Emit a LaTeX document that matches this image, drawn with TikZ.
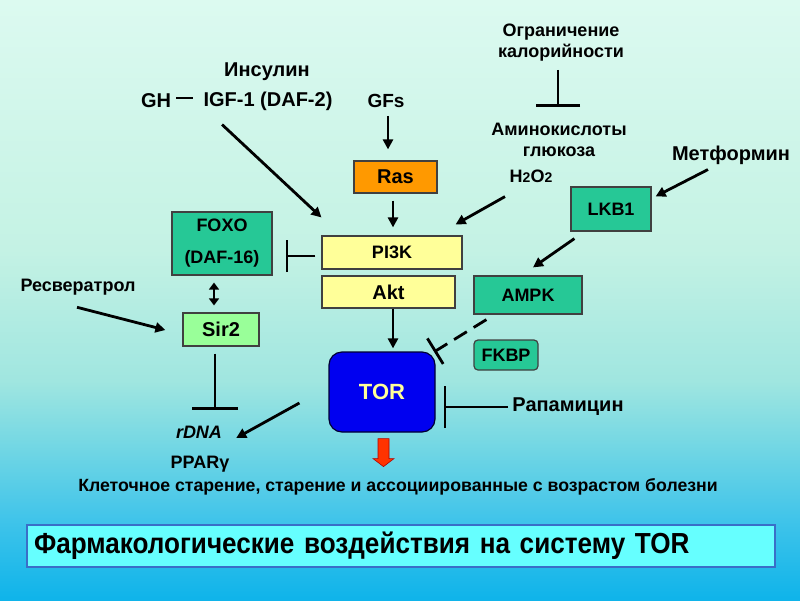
\documentclass[tikz,border=0pt]{standalone}
\usepackage{fontspec}
\setmainfont{Liberation Sans}
\newfontfamily\titlefont{Liberation Sans}[FakeStretch=0.9]
\usetikzlibrary{arrows.meta,calc}
\definecolor{bgA}{HTML}{10B4EA}
\definecolor{bgB}{HTML}{40C4EA}
\definecolor{bgC}{HTML}{70D6E4}
\definecolor{bgD}{HTML}{A0E6E0}
\definecolor{bgE}{HTML}{C4F2E4}
\definecolor{bgF}{HTML}{DCFAF0}
\definecolor{tealbox}{HTML}{26C896}
\definecolor{sirfill}{HTML}{99FF99}
\definecolor{yelfill}{HTML}{FFFF99}
\definecolor{rasfill}{HTML}{FF9900}
\definecolor{torfill}{HTML}{0000F0}
\definecolor{tortext}{HTML}{FFFF99}
\definecolor{titlefill}{HTML}{66FFFF}
\definecolor{titledraw}{HTML}{3A6EC8}
\definecolor{redarrow}{HTML}{FF3300}
\pgfdeclareverticalshading{bgshade}{100bp}{color(0bp)=(bgA); color(25.2bp)=(bgA); color(31.7bp)=(bgB); color(37.5bp)=(bgC); color(43.3bp)=(bgD); color(54.2bp)=(bgE); color(75bp)=(bgF); color(100bp)=(bgF)}
\newcommand{\fsz}[1]{\fontsize{#1}{#1}\selectfont}
\tikzset{
  box/.style={draw=black!75, line width=1.2pt, inner sep=0pt, font=\bfseries\fsz{18}, text=black},
  lab/.style={font=\bfseries\fontsize{18}{21}\selectfont, inner sep=0pt, align=center},
  biglab/.style={lab, font=\bfseries\fontsize{20}{23}\selectfont},
  arr/.style={line width=2.8pt, -{Triangle[length=10pt,width=10pt]}},
  darr/.style={line width=2.8pt, {Triangle[length=7pt,width=10pt]}-{Triangle[length=7pt,width=10pt]}},
  inh/.style={line width=2.8pt, -{Bar[width=#1, line width=2.8pt]}},
}
\begin{document}
\begin{tikzpicture}[x=1pt,y=-1pt]
\useasboundingbox (0,0) rectangle (800,600);
\shade[shading=bgshade] (0,0) rectangle (800,600);

% text labels
\node[biglab] (ins) at (267,72) {Инсулин};
\node[biglab] (gh) at (156,101) {GH};
\node[biglab] (igf) at (268,101) {IGF-1 (DAF-2)};
\node[lab, font=\bfseries\fsz{19}] (gfs) at (386,101) {GFs};
\node[lab] (ogr) at (561,43) {Ограничение\\калорийности};
\node[lab] (amino) at (559,140) {Аминокислоты\\глюкоза};
\node[lab] (h2o2) at (531,176) {H{\fontsize{14}{15}\selectfont 2}O{\fontsize{14}{15}\selectfont 2}};
\node[biglab] (metf) at (731,155) {Метформин};
\node[lab] (resv) at (78,287) {Ресвератрол};
\node[biglab] (rapa) at (568,407) {Рапамицин};
\node[lab] (rdna) at (199,432) {\itshape rDNA};
\node[lab] (ppar) at (200,464) {PPARγ};
\node[lab, font=\bfseries\fsz{17.7}] (bottom) at (398,487) {Клеточное старение, старение и ассоциированные с возрастом болезни};

% boxes
\node[box, fill=rasfill, font=\bfseries\fsz{20}, minimum width=83pt, minimum height=32pt] (ras) at (395.5,177) {Ras};
\node[box, fill=yelfill, minimum width=140pt, minimum height=33pt] (pi3k) at (392,252.5) {PI3K};
\node[box, fill=yelfill, font=\bfseries\fsz{20}, minimum width=133pt, minimum height=32pt] (akt) at (388.5,292) {Akt};
\node[box, fill=tealbox, minimum width=80pt, minimum height=44pt] (lkb) at (611,209) {LKB1};
\node[box, fill=tealbox, minimum width=108pt, minimum height=38pt] (ampk) at (528,295) {AMPK};
\node[box, fill=tealbox, rounded corners=4pt, minimum width=64pt, minimum height=30pt] (fkbp) at (506,355) {FKBP};
\node[box, fill=torfill, draw=black!80!blue, rounded corners=13pt, minimum width=106pt, minimum height=80pt, text=tortext, font=\bfseries\fsz{22}] (tor) at (382,392) {TOR};
\node[box, fill=tealbox, minimum width=100pt, minimum height=63pt, align=center, font=\bfseries\fontsize{18}{32}\selectfont] (foxo) at (222,243.5) {FOXO\\(DAF-16)};
\node[box, fill=sirfill, font=\bfseries\fsz{20}, minimum width=76pt, minimum height=33pt] (sir) at (221,329.5) {Sir2};

% connectors
\draw[line width=2.2pt, shorten <=5pt, shorten >=10pt] ($(gh.east)+(0,-3)$) -- ($(igf.west)+(0,-3)$);
\draw[arr, shorten <=8pt, shorten >=11pt] ([xshift=2pt]gfs.south) -- ([xshift=2pt]gfs.south |- ras.north);
\draw[arr, shorten <=7pt, shorten >=8pt] ([xshift=-2.5pt]ras.south) -- ([xshift=-2.5pt]ras.south |- pi3k.north);
\draw[arr] ($(igf.south)+(-46,14)$) -- ($(pi3k.north west)+(0,-18)$);
\draw[arr] ($(h2o2.south)+(-26,14)$) -- ($(pi3k.north east)+(-7,-11)$);
\draw[inh=44pt] ($(ogr.south)+(-3,8)$) -- ($(amino.north)+(-1,-16)$);
\draw[arr] ($(metf.south)+(-23,5)$) -- ($(lkb.north east)+(4,10)$);
\draw[arr] ($(lkb.south west)+(4,7)$) -- ($(ampk.north)+(5,-8)$);
\draw[inh=30pt, dash pattern=on 15pt off 8pt] ($(ampk.south west)+(13,5)$) -- ($(tor.north east)+(-1.5,0.5)$);
\draw[arr, shorten >=3pt] ([xshift=4.5pt]akt.south) -- ([xshift=4.5pt]akt.south |- tor.north);
\draw[inh=42pt] ($(rapa.west)+(-4,0)$) -- ($(tor.east)+(8,15)$);
\draw[inh=32pt] ($(pi3k.west)+(-6,3.5)$) -- ($(foxo.east)+(13,12.5)$);
\draw[darr] ($(foxo.south)+(-8,7)$) -- ($(sir.north)+(-7,-7)$);
\draw[arr] ($(resv.south)+(-1,12)$) -- ($(sir.west)+(-17,0.5)$);
\draw[inh=46pt] ($(sir.south)+(-6,7)$) -- ($(rdna.north)+(16,-16)$);
\draw[arr] ($(tor.west)+(-29,11)$) -- ($(rdna.east)+(14,6)$);

% red block arrow
\fill[redarrow, draw=red!70!black, line width=0.6pt]
  ($(tor.south)+(-4,6)$) -- ++(11,0) -- ++(0,20) -- ++(5,0) -- ++(-10.5,8) -- ++(-10.5,-8) -- ++(5,0) -- cycle;

% title
\node[draw=titledraw, line width=1.5pt, fill=titlefill, minimum width=748pt, minimum height=42pt, text width=734pt, align=left, inner xsep=7pt, font=\titlefont\bfseries\fontsize{29}{30}\selectfont] (title) at (401,546) {Фармакологические воздействия на систему TOR};
\end{tikzpicture}
\end{document}
